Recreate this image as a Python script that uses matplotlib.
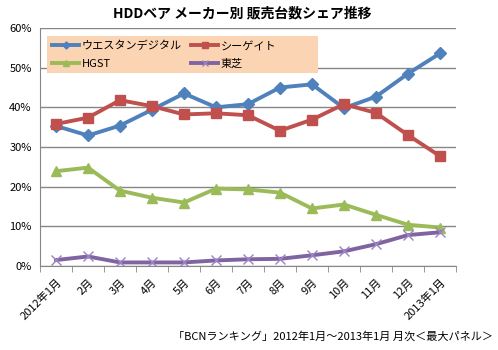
import matplotlib
matplotlib.use("Agg")
import matplotlib.pyplot as plt
from matplotlib.patches import Rectangle
import numpy as np

plt.rcParams['font.family'] = ['Noto Sans CJK JP', 'DejaVu Sans']

months = ['2012年1月', '2月', '3月', '4月', '5月', '6月', '7月', '8月',
          '9月', '10月', '11月', '12月', '2013年1月']
wd = [35.3, 32.9, 35.4, 39.4, 43.5, 40.0, 40.8, 45.0, 45.8, 39.8, 42.7, 48.5, 53.6]
seagate = [35.8, 37.4, 41.8, 40.3, 38.2, 38.5, 38.0, 34.1, 36.9, 40.8, 38.6, 33.0, 27.7]
hgst = [23.9, 24.8, 19.0, 17.2, 16.0, 19.5, 19.3, 18.5, 14.5, 15.5, 12.9, 10.4, 9.7]
toshiba = [1.5, 2.4, 0.9, 0.9, 0.9, 1.4, 1.7, 1.8, 2.7, 3.7, 5.5, 7.8, 8.5]

fig = plt.figure(figsize=(4.98, 3.5), dpi=100)
ax = fig.add_axes([40/498, 84/350, 416/498, 238/350])

x = np.arange(len(months))
l1, = ax.plot(x, wd, color='#4F81BD', lw=2.8, marker='D', ms=6, label='ウエスタンデジタル')
l2, = ax.plot(x, seagate, color='#C0504D', lw=2.8, marker='s', ms=7, label='シーゲイト')
l3, = ax.plot(x, hgst, color='#9BBB59', lw=2.8, marker='^', ms=7, label='HGST')
l4, = ax.plot(x, toshiba, color='#8064A2', lw=2.8, marker='x', ms=7, mew=1,
              mec='#9C84C4', label='東芝')

ax.set_xlim(-0.5, len(months) - 0.5)
ax.set_ylim(0, 60)
ax.set_yticks(np.arange(0, 61, 10))
ax.set_yticklabels([f'{v}%' for v in range(0, 61, 10)], fontsize=8)
ax.tick_params(axis='y', length=0, pad=6)

ax.set_xticks(x)
ax.set_xticklabels(months, rotation=45, ha='right', rotation_mode='anchor', fontsize=8)
ax.set_xticks(np.arange(-0.5, len(months), 1), minor=True)
ax.tick_params(axis='x', which='major', length=0, pad=8)
ax.tick_params(axis='x', which='minor', length=4, color='#868686')

ax.grid(axis='y', color='#868686', lw=1)
ax.set_axisbelow(True)
for s in ['top', 'right']:
    ax.spines[s].set_visible(False)
for s in ['left', 'bottom']:
    ax.spines[s].set_color('#868686')

# legend background box (Excel style, wider than the entries)
ax.add_patch(Rectangle((7/416, 193/238), 271/416, 37/238, transform=ax.transAxes,
                       facecolor='#FBD4B4', edgecolor='none', zorder=4))
leg = ax.legend(handles=[l1, l3, l2, l4], ncol=2, loc='upper left',
                bbox_to_anchor=(12/416, 225/238), fontsize=8, frameon=False,
                borderaxespad=0, borderpad=0, handlelength=2.45,
                columnspacing=0.8, handletextpad=0.25, labelspacing=0.7,
                markerscale=0.6)
leg.set_zorder(5)

fig.text(242/498, 1 - 13/350, 'HDDベア メーカー別 販売台数シェア推移',
         ha='center', va='center', fontsize=10, fontweight='bold')
fig.text(493/498, 1 - 336/350, '「BCNランキング」2012年1月～2013年1月 月次＜最大パネル＞',
         ha='right', va='center', fontsize=8)

fig.savefig('out.png', dpi=100)
